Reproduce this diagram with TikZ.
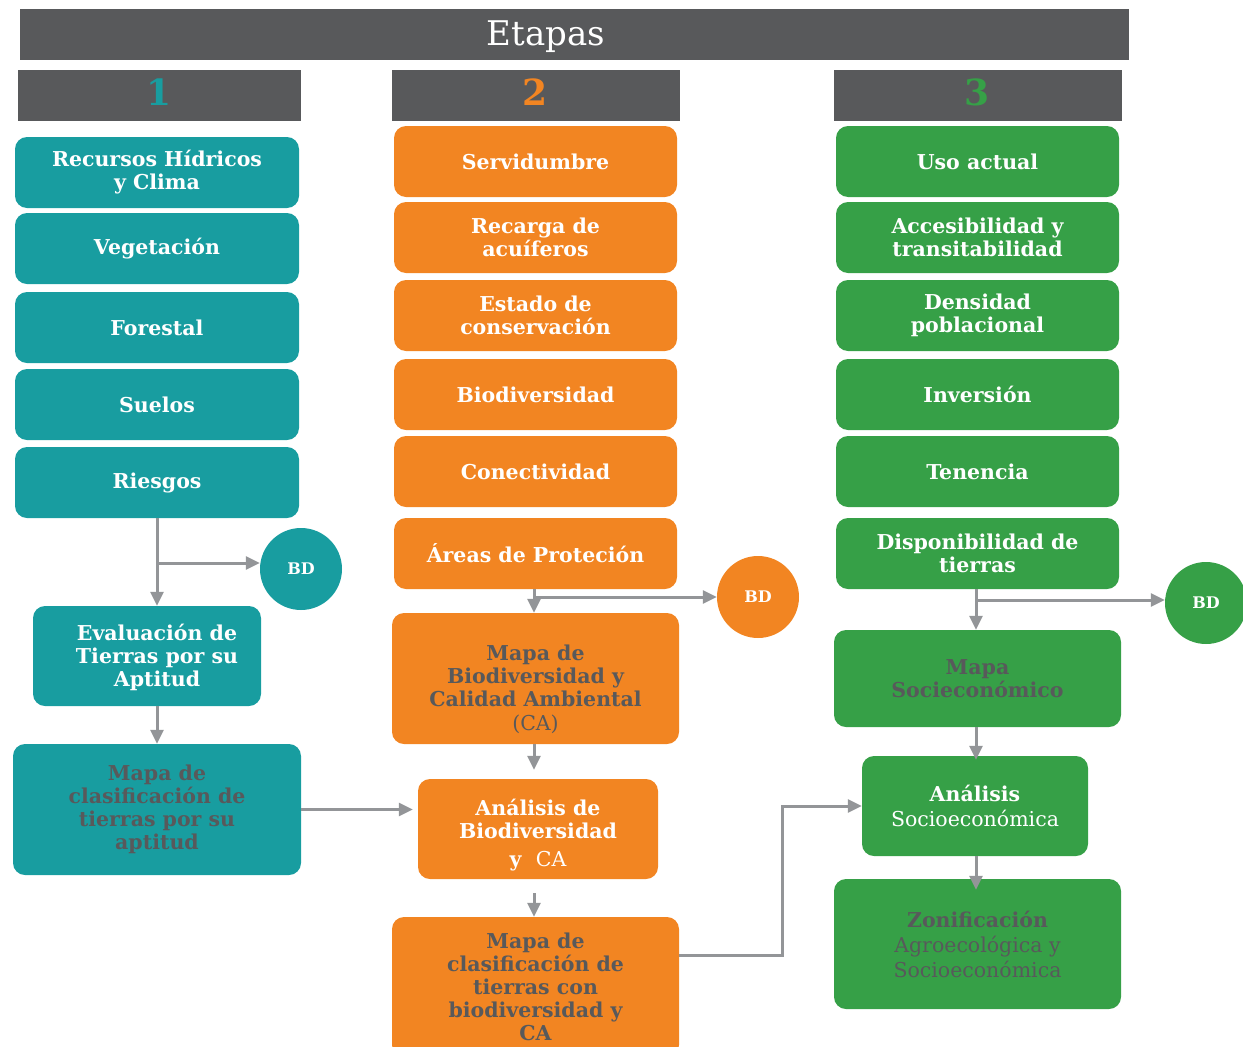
\documentclass[tikz,border=0pt]{standalone}
\usepackage{fontspec}
\setmainfont{DejaVu Serif}
\usetikzlibrary{arrows.meta}
\definecolor{cT}{HTML}{189DA0}
\definecolor{cO}{HTML}{F28522}
\definecolor{cG}{HTML}{36A047}
\definecolor{cBar}{HTML}{58595B}
\definecolor{cArr}{HTML}{939598}
\definecolor{cTxt}{HTML}{58595B}
\tikzset{
  box/.style={rounded corners=12pt, draw=none, align=center, text=white, inner sep=0pt,
    font=\bfseries\fontsize{20.5}{23}\selectfont},
  std1/.style={box, fill=cT, minimum width=284pt, minimum height=71pt},
  std2/.style={box, fill=cO, minimum width=283pt, minimum height=71pt},
  std3/.style={box, fill=cG, minimum width=283pt, minimum height=71pt},
  mapbox/.style={box, text=cTxt},
  bd/.style={circle, minimum size=82pt, inner sep=0pt, text=white, font=\bfseries\fontsize{16}{18}\selectfont},
  hdr/.style={fill=cBar, inner sep=0pt, minimum height=51pt},
  num/.style={font=\bfseries\fontsize{36}{40}\selectfont},
  arr/.style={draw=cArr, line width=3pt, -{Triangle[length=14pt,width=13pt]}},
  ln/.style={draw=cArr, line width=3pt}
}
\begin{document}
\begin{tikzpicture}[x=1pt,y=-1pt]
\useasboundingbox (0,0) rectangle (1243,1047);
% headers
\node[hdr, minimum width=1109pt] (bar) at (574.5,34.5) {};
\node[text=white, font=\fontsize{34}{38}\selectfont] (etapas) at (546,37) {Etapas};
\node[hdr, minimum width=283pt] (h1) at (159.5,95.5) {};
\node[num, text=cT] (n1) at (159,92) {1};
\node[hdr, minimum width=288pt] (h2) at (536,95.5) {};
\node[num, text=cO] (n2) at (535,92) {2};
\node[hdr, minimum width=288pt] (h3) at (978,95.5) {};
\node[num, text=cG] (n3) at (977,92) {3};

% column 1
\node[std1] (t1) at (157,172.5) {Recursos Hídricos\\y Clima};
\node[std1] (t2) at (157,248.5) {Vegetación};
\node[std1] (t3) at (157,327.5) {Forestal};
\node[std1] (t4) at (157,404.5) {Suelos};
\node[std1] (t5) at (157,482.5) {Riesgos};
\node[bd, fill=cT] (bd1) at (301,569) {BD};
\node[box, fill=cT, minimum width=228pt, minimum height=100pt,
  label={[box, xshift=10pt, yshift=-1pt]center:Evaluación de\\Tierras por su\\Aptitud}] (ev) at (147,656) {};
\node[mapbox, fill=cT, minimum width=288pt, minimum height=131pt] (m1) at (157,809.5)
  {Mapa de\\clasificación de\\tierras por su\\aptitud};

% column 2
\node[std2] (s1) at (535.5,161.5) {Servidumbre};
\node[std2] (s2) at (535.5,237.5) {Recarga de\\acuíferos};
\node[std2] (s3) at (535.5,315.5) {Estado de\\conservación};
\node[std2] (s4) at (535.5,394.5) {Biodiversidad};
\node[std2] (s5) at (535.5,471.5) {Conectividad};
\node[std2] (s6) at (535.5,553.5) {Áreas de Proteción};
\node[bd, fill=cO] (bd2) at (758,597) {BD};
\node[box, fill=cO, minimum width=287pt, minimum height=131pt,
  label={[mapbox, yshift=-11pt]center:Mapa de\\Biodiversidad y\\Calidad Ambiental\\[1pt]{\mdseries (CA)}}] (mb) at (535.5,678.5) {};
\node[box, fill=cO, minimum width=240pt, minimum height=100pt,
  label={[box, yshift=-6pt]center:Análisis de\\Biodiversidad\\[5pt]y\ \ {\mdseries CA}}] (ab) at (538,829) {};
\node[mapbox, fill=cO, minimum width=287pt, minimum height=140pt] (mc2) at (535.5,987)
  {Mapa de\\clasificación de\\tierras con\\biodiversidad y\\CA};

% column 3
\node[std3] (g1) at (977.5,161.5) {Uso actual};
\node[std3] (g2) at (977.5,237.5) {Accesibilidad y\\transitabilidad};
\node[std3] (g3) at (977.5,315.5) {Densidad\\poblacional};
\node[std3] (g4) at (977.5,394.5) {Inversión};
\node[std3] (g5) at (977.5,471.5) {Tenencia};
\node[std3] (g6) at (977.5,553.5) {Disponibilidad de\\tierras};
\node[bd, fill=cG] (bd3) at (1206,603) {BD};
\node[mapbox, fill=cG, minimum width=287pt, minimum height=97pt] (ms) at (977.5,678.5)
  {Mapa\\Socieconómico};
\node[box, fill=cG, minimum width=226pt, minimum height=100pt] (as) at (975,806)
  {Análisis\\[2pt]{\mdseries Socioeconómica}};
\node[mapbox, fill=cG, minimum width=287pt, minimum height=130pt] (zo) at (977.5,944)
  {Zonificación\\[2pt]{\mdseries Agroecológica y}\\[2pt]{\mdseries Socioeconómica}};

% connectors column 1
\coordinate (j1) at (157,563);
\draw[arr] (t5.south) -- (ev.north -| t5.south);
\draw[arr] (j1) -- (j1 -| bd1.west);
\draw[arr] (ev.south -| m1.north) -- (m1.north);
\draw[arr, shorten >=5pt] (m1.east) -- (m1.east -| ab.west);

% connectors column 2
\coordinate (j2) at (534,597);
\draw[arr] (s6.south -| j2) -- (mb.north -| j2);
\draw[arr] (j2) -- (bd2.west);
\draw[arr, shorten >=9pt] (mb.south -| j2) -- (ab.north -| j2);
\draw[arr, shorten <=14pt] (ab.south -| j2) -- (mc2.north -| j2);
\coordinate (k1) at (782,955);
\draw[arr] (mc2.east |- k1) -- (k1) |- (as.west);

% connectors column 3
\coordinate (j3) at (976,600);
\draw[arr] (g6.south -| j3) -- (ms.north -| j3);
\draw[arr] (j3) -- (j3 -| bd3.west);
\draw[arr, shorten >=-4pt] (ms.south -| j3) -- (as.north -| j3);
\draw[arr, shorten >=-11pt] (as.south -| j3) -- (zo.north -| j3);
\end{tikzpicture}
\end{document}
